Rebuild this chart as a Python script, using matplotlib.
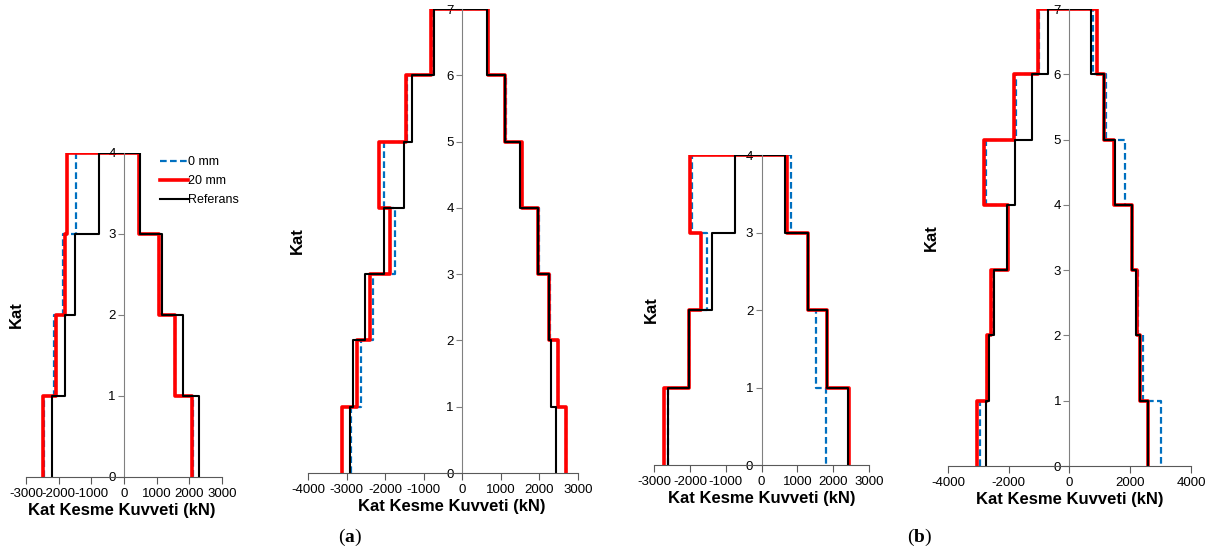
import numpy as np
import matplotlib
matplotlib.use("Agg")
import matplotlib.pyplot as plt

plt.rcParams['font.family'] = ['Liberation Sans', 'DejaVu Sans']
plt.rcParams['axes.unicode_minus'] = False
plt.rcParams['mathtext.fontset'] = 'custom'
plt.rcParams['mathtext.rm'] = 'Liberation Serif'
plt.rcParams['mathtext.bf'] = 'Liberation Serif:bold'

# story shear per storey segment (0-1, 1-2, ...), negative and positive envelopes
# panel 1 (a, 4 storeys)
p1_ref_neg = [-2210, -1820, -1500, -780]
p1_ref_pos = [2290, 1810, 1170, 480]
p1_20_neg = [-2490, -2080, -1820, -1750]
p1_20_pos = [2090, 1560, 1070, 470]
p1_0_neg = [-2440, -2130, -1870, -1460]
p1_0_pos = [2100, 1570, 1080, 470]

# panel 2 (a, 7 storeys)
p2_ref_neg = [-2910, -2840, -2520, -2020, -1500, -1300, -735]
p2_ref_pos = [2420, 2290, 2260, 1970, 1500, 1110, 650]
p2_20_neg = [-3130, -2720, -2390, -1880, -2160, -1470, -800]
p2_20_pos = [2700, 2490, 2260, 1970, 1540, 1120, 670]
p2_0_neg = [-2890, -2630, -2320, -1750, -2040, -1440, -750]
p2_0_pos = [2690, 2490, 2280, 1980, 1550, 1130, 680]

# panel 3 (b, 4 storeys)
p3_ref_neg = [-2600, -2030, -1390, -730]
p3_ref_pos = [2410, 1820, 1290, 640]
p3_20_neg = [-2710, -2030, -1700, -1990]
p3_20_pos = [2440, 1820, 1290, 720]
p3_0_neg = [-2610, -2030, -1530, -1940]
p3_0_pos = [1800, 1530, 1290, 810]

# panel 4 (b, 7 storeys)
p4_ref_neg = [-2740, -2650, -2500, -2040, -1780, -1220, -690]
p4_ref_pos = [2570, 2310, 2180, 2050, 1500, 1140, 700]
p4_20_neg = [-3030, -2720, -2580, -2030, -2810, -1810, -1020]
p4_20_pos = [2600, 2330, 2220, 2050, 1480, 1150, 920]
p4_0_neg = [-2940, -2700, -2550, -2010, -2740, -1770, -990]
p4_0_pos = [3010, 2410, 2250, 2070, 1830, 1210, 770]

series_names = ["0 mm", "20 mm", "Referans"]


def step_path(neg, pos):
    n = len(neg)
    ylo = np.arange(n)
    y_left = np.column_stack([ylo, ylo + 1]).ravel()
    x_left = np.repeat(neg, 2)
    x_right = np.repeat(pos, 2)[::-1]
    y_right = y_left[::-1]
    return np.concatenate([x_left, x_right]), np.concatenate([y_left, y_right])


panels = [
    dict(rect=[0.0214, 0.139, 0.1613, 0.585], xlim=(-3000, 3000), xstep=1000,
         data=[(p1_0_neg, p1_0_pos), (p1_20_neg, p1_20_pos), (p1_ref_neg, p1_ref_pos)],
         ylab_x=-0.012, xlab_x=0.49, legend=True),
    dict(rect=[0.2535, 0.1462, 0.2222, 0.8375], xlim=(-4000, 3000), xstep=1000,
         data=[(p2_0_neg, p2_0_pos), (p2_20_neg, p2_20_pos), (p2_ref_neg, p2_ref_pos)],
         ylab_x=-0.011, xlab_x=0.533, legend=False),
    dict(rect=[0.5383, 0.1606, 0.177, 0.5596], xlim=(-3000, 3000), xstep=1000,
         data=[(p3_0_neg, p3_0_pos), (p3_20_neg, p3_20_pos), (p3_ref_neg, p3_ref_pos)],
         ylab_x=0.021, xlab_x=0.5, legend=False),
    dict(rect=[0.7802, 0.1588, 0.2, 0.8249], xlim=(-4000, 4000), xstep=2000,
         data=[(p4_0_neg, p4_0_pos), (p4_20_neg, p4_20_pos), (p4_ref_neg, p4_ref_pos)],
         ylab_x=-0.038, xlab_x=0.5, legend=False),
]

styles = [
    dict(color='#0070C0', lw=1.6, ls=(0, (3, 1.5))),
    dict(color='#FF0000', lw=2.6, ls='-'),
    dict(color='#000000', lw=1.5, ls='-'),
]

fig = plt.figure(figsize=(12.15, 5.54), dpi=100)

for p in panels:
    ax = fig.add_axes(p['rect'])
    for (neg, pos), st, name in zip(p['data'], styles, series_names):
        x, y = step_path(neg, pos)
        ax.plot(x, y, color=st['color'], lw=st['lw'], ls=st['ls'], label=name)
    n = len(p['data'][0][0])
    ax.set_xlim(*p['xlim'])
    ax.set_ylim(0, n)
    ax.set_xticks(np.arange(p['xlim'][0], p['xlim'][1] + 1, p['xstep']))
    ax.set_yticks(np.arange(0, n + 1))
    ax.spines['left'].set_position(('data', 0))
    ax.spines['left'].set_color('#808080')
    ax.spines['bottom'].set_color('#595959')
    ax.spines['top'].set_visible(False)
    ax.spines['right'].set_visible(False)
    ax.tick_params(axis='x', direction='out', length=5, color='#595959', labelsize=9.5, pad=3)
    ax.tick_params(axis='y', direction='out', length=4, color='#808080', labelsize=9.5, pad=2)
    ax.set_xlabel('Kat Kesme Kuvveti (kN)', fontsize=12, fontweight='bold', labelpad=2)
    ax.xaxis.label.set_x(p['xlab_x'])
    ax.set_ylabel('Kat', fontsize=12, fontweight='bold')
    ax.yaxis.set_label_coords(p['ylab_x'], 0.5)
    if p['legend']:
        ax.legend(loc='upper left', bbox_to_anchor=(0.66, 1.005), frameon=False,
                  fontsize=9, handlelength=2.2, handletextpad=0.0, labelspacing=0.55,
                  borderaxespad=0)

fig.text(350 / 1215, 1 - 537 / 554, r'($\mathbf{a}$)', fontsize=14, ha='center', va='center',
         family='Liberation Serif')
fig.text(920 / 1215, 1 - 537 / 554, r'($\mathbf{b}$)', fontsize=14, ha='center', va='center',
         family='Liberation Serif')

fig.savefig('out.png', dpi=100)
